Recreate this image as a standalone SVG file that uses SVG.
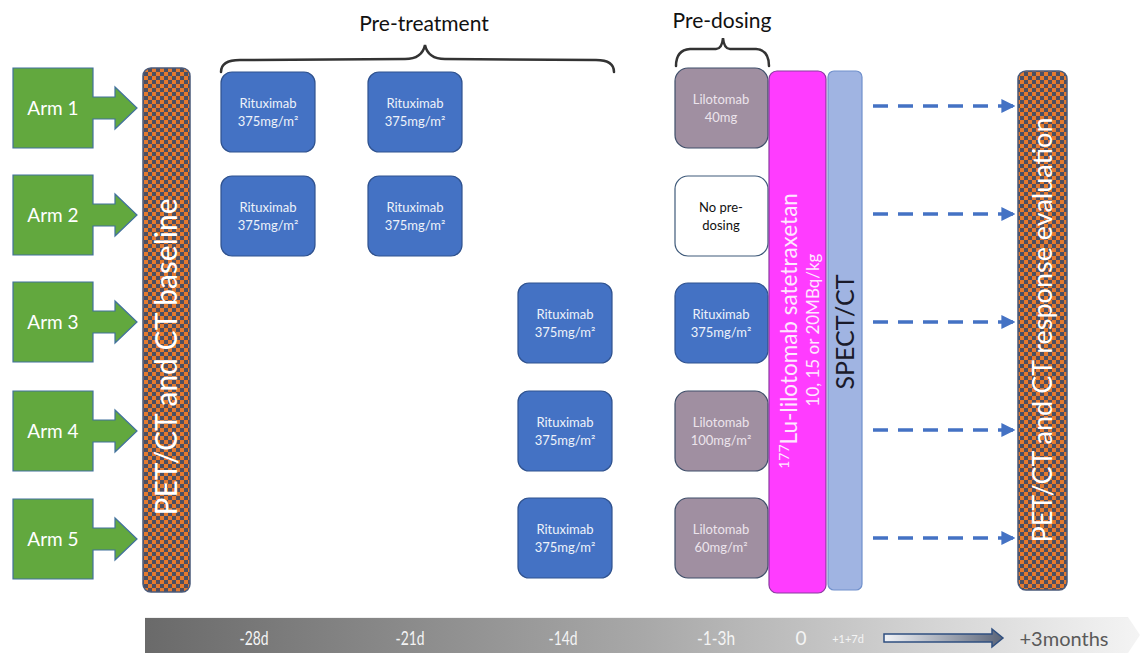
<svg xmlns="http://www.w3.org/2000/svg" width="1140" height="653" viewBox="0 0 1140 653">
<defs>
<pattern id="chk" width="8" height="8" patternUnits="userSpaceOnUse">
<rect width="8" height="8" fill="#e57a2e"/>
<rect width="4" height="4" fill="#4b4f63"/>
<rect x="4" y="4" width="4" height="4" fill="#4b4f63"/>
</pattern>
<linearGradient id="tl" x1="0" y1="0" x2="1" y2="0">
<stop offset="0" stop-color="#6a6a6a"/>
<stop offset="0.5" stop-color="#a8a8a8"/>
<stop offset="1" stop-color="#f4f4f4"/>
</linearGradient>
<linearGradient id="ta" x1="0" y1="0" x2="1" y2="0">
<stop offset="0" stop-color="#f2f4f8"/>
<stop offset="1" stop-color="#5a6478"/>
</linearGradient>
<marker id="ah" viewBox="0 0 10 10" refX="9" refY="5" markerWidth="4" markerHeight="4" orient="auto">
<path d="M0,0 L10,5 L0,10 Z" fill="#4472c4"/>
</marker>
<path id="armshape" d="M13,-40 H93 V-11 H115 V-21 L137,0 L115,21 V11 H93 V40 H13 Z"/>
</defs>
<style>
.arm{fill:#62a83e;stroke:#41719c;stroke-width:1.2}
.armt{font-family:Lato,"Open Sans",sans-serif;font-size:19px;fill:#ffffff;text-anchor:middle}
.rit{fill:#4472c4;stroke:#2f528f;stroke-width:1.2}
.lil{fill:#a08fa1;stroke:#3f4f6a;stroke-width:1.2}
.none{fill:#ffffff;stroke:#3f5a7a;stroke-width:1.2}
.bt{font-family:Lato,"Open Sans",sans-serif;font-size:13px;fill:#eef2fa;text-anchor:middle}
.bl{font-family:Lato,"Open Sans",sans-serif;font-size:13px;fill:#ece4ec;text-anchor:middle}
.bk{font-family:Lato,"Open Sans",sans-serif;font-size:13px;fill:#111111;text-anchor:middle}
.brace{fill:none;stroke:#333333;stroke-width:2.5;stroke-linecap:round}
.title{font-family:Lato,"Open Sans",sans-serif;font-size:21px;fill:#111111;text-anchor:middle}
.vt{font-family:Lato,"Open Sans",sans-serif;fill:#ffffff;text-anchor:middle}
.dash{stroke:#4472c4;stroke-width:3.5;stroke-dasharray:15 10;fill:none}
.tlt{font-family:Lato,"Liberation Sans",sans-serif;fill:#f4f4f4;text-anchor:middle}
</style>

<g id="titles">
<text class="title" x="424" y="31">Pre-treatment</text>
<text class="title" x="722" y="28">Pre-dosing</text>
<path class="brace" d="M221,72 Q221,60 240,60 L405,59 Q422,59 425,45 Q428,59 445,59 L596,60 Q614,60 614,72"/>
<path class="brace" d="M676,66 Q676,50 690,49 L716,49 Q722,49 723,38 Q724,49 730,49 L756,49 Q769,50 769,66"/>
</g>

<g id="arm1"><use href="#armshape" class="arm" transform="translate(0,108)"/><text class="armt" x="53" y="115">Arm 1</text></g>
<g id="arm2"><use href="#armshape" class="arm" transform="translate(0,215)"/><text class="armt" x="53" y="222">Arm 2</text></g>
<g id="arm3"><use href="#armshape" class="arm" transform="translate(0,322)"/><text class="armt" x="53" y="329">Arm 3</text></g>
<g id="arm4"><use href="#armshape" class="arm" transform="translate(0,431)"/><text class="armt" x="53" y="438">Arm 4</text></g>
<g id="arm5"><use href="#armshape" class="arm" transform="translate(0,539)"/><text class="armt" x="53" y="546">Arm 5</text></g>

<g id="baseline">
<rect x="143" y="68" width="47" height="524" rx="8" fill="url(#chk)" stroke="#4a5a7a" stroke-width="1.5"/>
<text class="vt" style="font-size:30px" transform="translate(177,357) rotate(-90)">PET/CT and CT baseline</text>
</g>

<g id="rit1a"><rect class="rit" x="221" y="72" width="94" height="80" rx="11"/><text class="bt" x="268" y="108">Rituximab</text><text class="bt" x="268" y="126">375mg/m²</text></g>
<g id="rit1b"><rect class="rit" x="368" y="72" width="94" height="80" rx="11"/><text class="bt" x="415" y="108">Rituximab</text><text class="bt" x="415" y="126">375mg/m²</text></g>
<g id="rit2a"><rect class="rit" x="221" y="176" width="94" height="80" rx="11"/><text class="bt" x="268" y="212">Rituximab</text><text class="bt" x="268" y="230">375mg/m²</text></g>
<g id="rit2b"><rect class="rit" x="368" y="176" width="94" height="80" rx="11"/><text class="bt" x="415" y="212">Rituximab</text><text class="bt" x="415" y="230">375mg/m²</text></g>
<g id="rit3"><rect class="rit" x="518" y="283" width="94" height="80" rx="11"/><text class="bt" x="565" y="319">Rituximab</text><text class="bt" x="565" y="337">375mg/m²</text></g>
<g id="rit4"><rect class="rit" x="518" y="391" width="94" height="80" rx="11"/><text class="bt" x="565" y="427">Rituximab</text><text class="bt" x="565" y="445">375mg/m²</text></g>
<g id="rit5"><rect class="rit" x="518" y="498" width="94" height="80" rx="11"/><text class="bt" x="565" y="534">Rituximab</text><text class="bt" x="565" y="552">375mg/m²</text></g>

<g id="pre1"><rect class="lil" x="675" y="68" width="93" height="80" rx="13"/><text class="bl" x="721" y="104">Lilotomab</text><text class="bl" x="721" y="122">40mg</text></g>
<g id="pre2"><rect class="none" x="675" y="176" width="93" height="80" rx="13"/><text class="bk" x="721" y="212">No pre-</text><text class="bk" x="721" y="230">dosing</text></g>
<g id="pre3"><rect class="rit" x="675" y="283" width="93" height="80" rx="13"/><text class="bt" x="721" y="319">Rituximab</text><text class="bt" x="721" y="337">375mg/m²</text></g>
<g id="pre4"><rect class="lil" x="675" y="391" width="93" height="80" rx="13"/><text class="bl" x="721" y="427">Lilotomab</text><text class="bl" x="721" y="445">100mg/m²</text></g>
<g id="pre5"><rect class="lil" x="675" y="498" width="93" height="80" rx="13"/><text class="bl" x="721" y="534">Lilotomab</text><text class="bl" x="721" y="552">60mg/m²</text></g>

<g id="lu177">
<rect x="769" y="71" width="57" height="522" rx="8" fill="#ff3cff" stroke="#8a3aa0" stroke-width="1.2"/>
<text class="vt" style="font-size:22.5px;fill:#ffe8ff" transform="translate(797,331) rotate(-90)"><tspan style="font-size:14px" dy="-8">177</tspan><tspan dy="8">Lu-lilotomab satetraxetan</tspan></text>
<text class="vt" style="font-size:17px;fill:#ffe8ff" transform="translate(819,330) rotate(-90)">10, 15 or 20MBq/kg</text>
</g>

<g id="spect">
<rect x="828" y="71" width="34" height="519" rx="6" fill="#a0b4e2" stroke="#7090cc" stroke-width="1.2"/>
<text class="vt" style="font-size:25px;fill:#1a1a2a" transform="translate(854,332) rotate(-90)">SPECT/CT</text>
</g>

<g id="connectors">
<line class="dash" x1="873" y1="106" x2="1014" y2="106" marker-end="url(#ah)"/>
<line class="dash" x1="873" y1="214" x2="1014" y2="214" marker-end="url(#ah)"/>
<line class="dash" x1="873" y1="322" x2="1014" y2="322" marker-end="url(#ah)"/>
<line class="dash" x1="873" y1="430" x2="1014" y2="430" marker-end="url(#ah)"/>
<line class="dash" x1="873" y1="538" x2="1014" y2="538" marker-end="url(#ah)"/>
</g>

<g id="response">
<rect x="1018" y="71" width="49" height="519" rx="8" fill="url(#chk)" stroke="#4a5a7a" stroke-width="1.5"/>
<text class="vt" style="font-size:27px" transform="translate(1052,330) rotate(-90)">PET/CT and CT response evaluation</text>
</g>

<g id="timeline">
<path d="M145,617 H1128 L1140,635 L1128,653 H145 Z" fill="url(#tl)"/>
<line x1="145" y1="617.5" x2="1128" y2="617.5" stroke="#f0f0f0" stroke-width="1"/>
<text class="tlt" style="font-size:19px" x="254" y="645" textLength="29" lengthAdjust="spacingAndGlyphs">-28d</text>
<text class="tlt" style="font-size:19px" x="410" y="645" textLength="29" lengthAdjust="spacingAndGlyphs">-21d</text>
<text class="tlt" style="font-size:19px" x="563" y="645" textLength="29" lengthAdjust="spacingAndGlyphs">-14d</text>
<text class="tlt" style="font-size:19px" x="716" y="645" textLength="38" lengthAdjust="spacingAndGlyphs">-1-3h</text>
<text class="tlt" style="font-size:19px" x="801" y="645">0</text>
<text class="tlt" style="font-size:11px" x="848" y="643">+1+7d</text>
<path d="M884,635 H992 V630 L1003,639 L992,648 V643 H884 Z" fill="url(#ta)" stroke="#2f4f80" stroke-width="1.5" transform="translate(0,-1)"/>
<text x="1064" y="646" font-family="Lato,'Open Sans',sans-serif" font-size="20" fill="#5a5a5a" text-anchor="middle">+3months</text>
</g>
</svg>
